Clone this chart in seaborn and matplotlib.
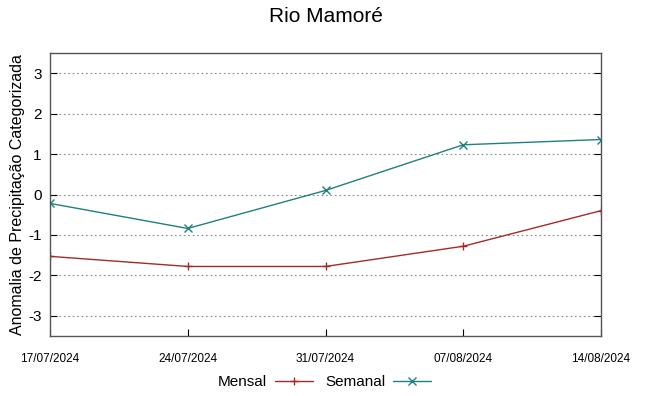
import numpy as np
import pandas as pd
import matplotlib
matplotlib.use("Agg")
import matplotlib.pyplot as plt
import seaborn as sns

dates = ["17/07/2024", "24/07/2024", "31/07/2024", "07/08/2024", "14/08/2024"]
mensal = [-1.53, -1.78, -1.78, -1.28, -0.40]
semanal = [-0.22, -0.84, 0.10, 1.23, 1.36]

sns.set_style("white")
plt.rcParams['font.family'] = ['Liberation Sans', 'DejaVu Sans']
plt.rcParams['text.color'] = 'black'
plt.rcParams['axes.labelcolor'] = 'black'
plt.rcParams['xtick.color'] = 'black'
plt.rcParams['ytick.color'] = 'black'

x = pd.to_datetime(dates, format="%d/%m/%Y")
df = pd.DataFrame({"data": list(x) * 2,
                   "valor": mensal + semanal,
                   "serie": ["Mensal"] * 5 + ["Semanal"] * 5})

fig = plt.figure(figsize=(6.49, 3.96), dpi=100)
ax = fig.add_axes([50/649, 60/396, 551/649, 283/396])

colors = {"Mensal": "#a52a2a", "Semanal": "#1f8080"}
markers = {"Mensal": "+", "Semanal": "x"}
for name in ["Mensal", "Semanal"]:
    sub = df[df.serie == name]
    sns.lineplot(data=sub, x="data", y="valor", ax=ax, color=colors[name],
                 marker=markers[name], markersize=6, markeredgewidth=1,
                 linewidth=1, label=name, markeredgecolor=colors[name])

ax.set_xlim(x[0], x[-1])
ax.set_ylim(-3.5, 3.5)
ax.set_xticks(x)
ax.set_xticklabels(dates, fontsize=8.5)
ax.set_yticks(range(-3, 4))
ax.set_yticklabels([str(v) for v in range(-3, 4)], fontsize=11)
ax.tick_params(axis='y', direction='in', length=5, right=True, left=True, pad=6, color='black')
ax.tick_params(axis='x', direction='in', length=5, bottom=True, pad=12, color='black')
ax.yaxis.grid(True, linestyle=(0, (1.5, 2.5)), color='#888888', linewidth=0.8)
ax.xaxis.grid(False)
for s in ax.spines.values():
    s.set_color('#555555')
    s.set_linewidth(1)
ax.set_xlabel("")
ax.set_ylabel("Anomalia de Precipitação Categorizada", fontsize=11.5, labelpad=2)
ax.set_title("Rio Mamoré", fontsize=15, pad=22)

ax.get_legend().remove()
h, l = ax.get_legend_handles_labels()
fig.legend(h, l, loc='center', bbox_to_anchor=(0.5, 1 - 382/396), ncol=2, frameon=False,
           markerfirst=False, fontsize=11, handlelength=2.5, columnspacing=0.8,
           handletextpad=0.5)

fig.savefig("out.png", dpi=100)
